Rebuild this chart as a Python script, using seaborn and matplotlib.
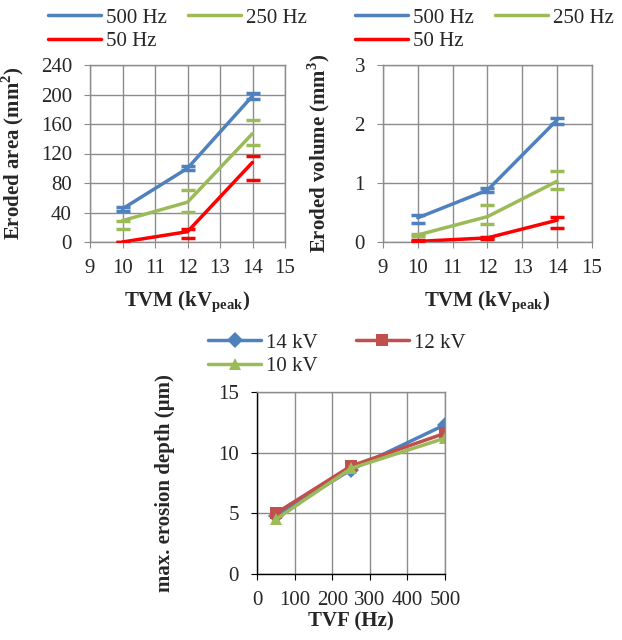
import numpy as np
import pandas as pd
import matplotlib
matplotlib.use("Agg")
import matplotlib.pyplot as plt
import seaborn as sns

# ---- data ----
TVM = [10, 12, 14]
FREQS = ["500 Hz", "250 Hz", "50 Hz"]

area = {
    "500 Hz": [45, 100, 198],
    "250 Hz": [29, 54, 147],
    "50 Hz": [0, 14, 108],
}
area_lo = {"500 Hz": [3, 3, 4], "250 Hz": [12, 13, 16], "50 Hz": [0, 8, 24]}
area_hi = {"500 Hz": [2, 3, 4], "250 Hz": [0, 16, 18], "50 Hz": [0, 4, 9]}

volume = {
    "500 Hz": [0.41, 0.88, 2.07],
    "250 Hz": [0.12, 0.43, 1.03],
    "50 Hz": [0.01, 0.07, 0.37],
}
vol_lo = {"500 Hz": [0.08, 0.04, 0.07], "250 Hz": [0.02, 0.13, 0.13], "50 Hz": [0.0, 0.02, 0.14]}
vol_hi = {"500 Hz": [0.05, 0.03, 0.04], "250 Hz": [0.02, 0.2, 0.17], "50 Hz": [0.03, 0.015, 0.05]}

TVF = [50, 250, 500]
KV = ["14 kV", "12 kV", "10 kV"]
depth = {
    "14 kV": [4.75, 8.6, 12.3],
    "12 kV": [5.0, 8.9, 11.6],
    "10 kV": [4.5, 8.7, 11.2],
}

FREQ_COLORS = {"500 Hz": "#4F81BD", "250 Hz": "#9BBB59", "50 Hz": "#FF0000"}
KV_COLORS = {"14 kV": "#4F81BD", "12 kV": "#C0504D", "10 kV": "#9BBB59"}
KV_MARKERS = {"14 kV": "D", "12 kV": "s", "10 kV": "^"}

FS = 15
sns.set_style("white")
plt.rcParams.update({
    "font.family": ["Liberation Serif", "DejaVu Serif"],
    "mathtext.fontset": "custom",
    "mathtext.rm": "Liberation Serif",
    "mathtext.bf": "Liberation Serif:bold",
    "font.size": FS,
    "axes.linewidth": 1.0,
})

GRID = "#8c8c8c"


def style_axes(ax):
    ax.grid(True, color=GRID, lw=1.0)
    ax.set_axisbelow(True)
    for s in ax.spines.values():
        s.set_color(GRID)
    ax.tick_params(axis="both", direction="out", length=4, color=GRID,
                   labelsize=FS, left=True, bottom=True)
    ax.tick_params(axis="x", pad=8)
    ax.tick_params(axis="y", pad=9)


def row_order(handles, labels):
    # legend fills columns first; reorder so the first row holds items 1 and 2
    idx = [0, 2, 1]
    return [handles[i] for i in idx], [labels[i] for i in idx]


def freq_panel(ax, values, lo, hi, ylim, yticks, ylabel, lx, ylab_x):
    rows = [(v, f, values[f][i]) for f in FREQS for i, v in enumerate(TVM)]
    df = pd.DataFrame(rows, columns=["tvm", "freq", "val"])
    sns.lineplot(data=df, x="tvm", y="val", hue="freq", hue_order=FREQS,
                 palette=FREQ_COLORS, lw=2.5, ax=ax, legend=True)
    for f in FREQS:
        ax.errorbar(TVM, values[f], yerr=[lo[f], hi[f]], fmt="none",
                    ecolor=FREQ_COLORS[f], elinewidth=0, capsize=5,
                    capthick=2.5, zorder=3)
    ax.set_xlim(9, 15)
    ax.set_xticks(range(9, 16))
    ax.set_ylim(*ylim)
    ax.set_yticks(yticks)
    style_axes(ax)
    ax.set_xlabel(r"TVM (kV$_{\mathbf{peak}}$)", fontsize=FS, fontweight="bold",
                  labelpad=9)
    ax.set_ylabel(ylabel, fontsize=FS, fontweight="bold")
    ax.yaxis.set_label_coords(ylab_x, 0.5)
    handles, labels = row_order(*ax.get_legend_handles_labels())
    ax.legend(handles, labels, loc="upper left", bbox_to_anchor=(lx, 1 - 8 / 640),
              bbox_transform=fig.transFigure, ncol=2, frameon=False,
              handlelength=2.55, handletextpad=0.25, columnspacing=1.0,
              labelspacing=0.2, fontsize=FS, borderaxespad=0, borderpad=0)


fig = plt.figure(figsize=(6.22, 6.40), dpi=100)

ax1 = fig.add_axes([90 / 622, 1 - 242 / 640, 195 / 622, 177 / 640])
freq_panel(ax1, area, area_lo, area_hi, (0, 240), range(0, 241, 40),
           r"Eroded area (mm$^{\mathbf{2}}$)", 48 / 622, -0.33)

ax2 = fig.add_axes([383 / 622, 1 - 242 / 640, 209 / 622, 177 / 640])
freq_panel(ax2, volume, vol_lo, vol_hi, (0, 3), range(0, 4),
           r"Eroded volume (mm$^{\mathbf{3}}$)", 355 / 622, -0.245)

ax3 = fig.add_axes([257 / 622, 1 - 574 / 640, 188 / 622, 182 / 640])
rows = [(v, k, depth[k][i]) for k in KV for i, v in enumerate(TVF)]
ddf = pd.DataFrame(rows, columns=["tvf", "kv", "depth"])
sns.lineplot(data=ddf, x="tvf", y="depth", hue="kv", hue_order=KV,
             palette=KV_COLORS, style="kv", style_order=KV, markers=KV_MARKERS,
             dashes=False, lw=2.5, markersize=8, markeredgewidth=0, ax=ax3)
ax3.set_xlim(0, 500)
ax3.set_xticks(range(0, 501, 100))
ax3.set_ylim(0, 15)
ax3.set_yticks(range(0, 16, 5))
style_axes(ax3)
ax3.spines["left"].set_color("black")
ax3.spines["bottom"].set_color("black")
ax3.tick_params(color="black")
ax3.set_xlabel("TVF (Hz)", fontsize=FS, fontweight="bold", labelpad=1)
ax3.set_ylabel("max. erosion depth (µm)", fontsize=FS, fontweight="bold")
ax3.yaxis.set_label_coords(-0.435, 0.5)
h, l = row_order(*ax3.get_legend_handles_labels())
ax3.legend(h, l, loc="upper left", bbox_to_anchor=(208 / 622, 1 - 333 / 640),
           bbox_transform=fig.transFigure, ncol=2, frameon=False,
           handlelength=2.55, handletextpad=0.25, columnspacing=1.8,
           labelspacing=0.2, fontsize=FS, borderaxespad=0, borderpad=0)

fig.savefig("out.png", dpi=100)
